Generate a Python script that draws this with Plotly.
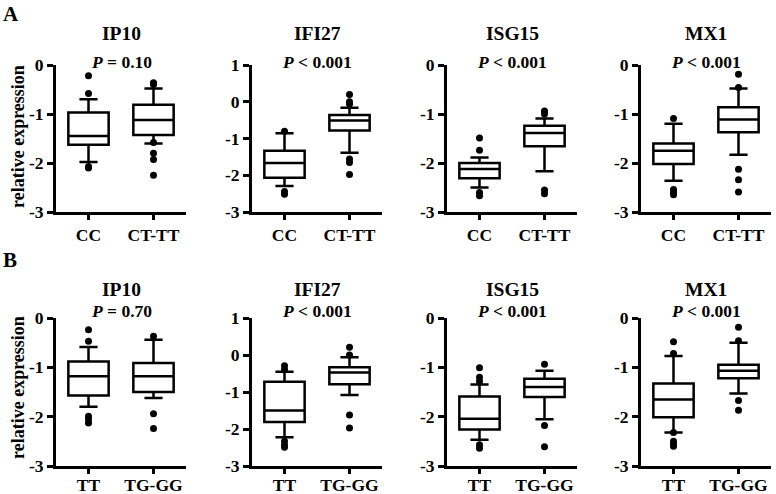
import plotly.graph_objects as go

genes = ["IP10", "IFI27", "ISG15", "MX1"]
groups_A = ["CC", "CT-TT"]
groups_B = ["TT", "TG-GG"]
p_A = ["<i>P</i> = 0.10", "<i>P</i> < 0.001", "<i>P</i> < 0.001", "<i>P</i> < 0.001"]
p_B = ["<i>P</i> = 0.70", "<i>P</i> < 0.001", "<i>P</i> < 0.001", "<i>P</i> < 0.001"]
y_top = [0, 1, 0, 0]
y_bottom = -3

# Panel A stats per gene: [CC, CT-TT]
A_upper = [[-0.70, -0.48], [-0.86, -0.16], [-1.89, -1.09], [-1.20, -0.48]]
A_q3 = [[-0.97, -0.81], [-1.33, -0.36], [-2.00, -1.24], [-1.60, -0.86]]
A_median = [[-1.45, -1.12], [-1.67, -0.51], [-2.12, -1.39], [-1.75, -1.11]]
A_q1 = [[-1.63, -1.43], [-2.07, -0.78], [-2.31, -1.66], [-2.02, -1.37]]
A_lower = [[-1.98, -1.60], [-2.29, -1.39], [-2.50, -2.17], [-2.36, -1.83]]
A_outliers = [
    [[-0.22, -0.58, -2.07, -2.10], [-0.36, -0.40, -1.58, -1.80, -1.93, -2.25]],
    [[-0.80, -2.44, -2.52], [0.20, 0.00, -0.06, -1.56, -1.65, -1.98]],
    [[-1.49, -1.74, -2.60, -2.67], [-0.94, -1.00, -2.55, -2.63]],
    [[-1.09, -2.54, -2.60, -2.65], [-0.19, -0.46, -2.13, -2.34, -2.59]],
]

# Panel B stats per gene: [TT, TG-GG]
B_upper = [[-0.59, -0.44], [-0.45, -0.06], [-1.35, -1.07], [-0.77, -0.50]]
B_q3 = [[-0.88, -0.91], [-0.72, -0.33], [-1.59, -1.23], [-1.33, -0.95]]
B_median = [[-1.18, -1.18], [-1.50, -0.47], [-2.04, -1.40], [-1.65, -1.07]]
B_q1 = [[-1.57, -1.50], [-1.81, -0.79], [-2.26, -1.60], [-2.01, -1.22]]
B_lower = [[-1.80, -1.62], [-2.22, -1.08], [-2.47, -2.05], [-2.32, -1.53]]
B_outliers = [
    [[-0.24, -0.47, -1.99, -2.05, -2.13], [-0.37, -1.94, -2.24]],
    [[-0.29, -0.39, -2.33, -2.43, -2.49], [0.21, 0.00, -1.62, -1.97]],
    [[-1.01, -1.20, -1.28, -2.57, -2.64], [-0.94, -2.18, -2.61]],
    [[-0.48, -0.72, -2.32, -2.50, -2.55, -2.60], [-0.19, -0.46, -1.67, -1.87]],
]

W, H = 776, 494
FONT = "Liberation Serif"
x_left_px = [56, 252, 447, 641]
x_width_px = 130
panels = [
    dict(groups=groups_A, p=p_A, upper=A_upper, q3=A_q3, median=A_median, q1=A_q1,
         lower=A_lower, outliers=A_outliers, top=65, bottom=212, title_y=34, p_y=62,
         letter="A", letter_y=14, label_y=137, standoff=0),
    dict(groups=groups_B, p=p_B, upper=B_upper, q3=B_q3, median=B_median, q1=B_q1,
         lower=B_lower, outliers=B_outliers, top=318, bottom=466, title_y=289, p_y=311,
         letter="B", letter_y=260, label_y=388, standoff=-4),
]

fig = go.Figure()
annotations = []
k = 0
for pi, pan in enumerate(panels):
    for gi, gene in enumerate(genes):
        k += 1
        xa = "x" if k == 1 else f"x{k}"
        ya = "y" if k == 1 else f"y{k}"
        for ci, cat in enumerate(pan["groups"]):
            fig.add_trace(go.Box(
                x=[cat], q1=[pan["q1"][gi][ci]], median=[pan["median"][gi][ci]],
                q3=[pan["q3"][gi][ci]], lowerfence=[pan["lower"][gi][ci]],
                upperfence=[pan["upper"][gi][ci]], boxpoints=False,
                fillcolor="white", line=dict(color="black", width=2.5),
                width=0.62, whiskerwidth=0.45, xaxis=xa, yaxis=ya, showlegend=False,
            ))
            outs = pan["outliers"][gi][ci]
            fig.add_trace(go.Scatter(
                x=[cat] * len(outs), y=outs, mode="markers",
                marker=dict(color="black", size=7), xaxis=xa, yaxis=ya, showlegend=False,
                cliponaxis=False,
            ))
        x0 = x_left_px[gi] / W
        x1 = (x_left_px[gi] + x_width_px) / W
        y0 = 1 - pan["bottom"] / H
        y1 = 1 - pan["top"] / H
        tv = list(range(y_top[gi], y_bottom - 1, -1))
        axis_common = dict(showline=True, linecolor="black", linewidth=3, ticks="outside",
                           tickwidth=3, tickcolor="black", showgrid=False,
                           zeroline=False, automargin=False,
                           tickfont=dict(family=FONT, size=17.5, color="black", weight="bold"))
        fig.layout[("xaxis" if k == 1 else f"xaxis{k}")] = dict(
            domain=[x0, x1], anchor=ya, type="category", range=[-0.5, 1.5], ticklen=5,
            ticklabelstandoff=pan["standoff"],
            categoryorder="array", categoryarray=pan["groups"], **axis_common)
        fig.layout[("yaxis" if k == 1 else f"yaxis{k}")] = dict(
            domain=[y0, y1], anchor=xa, range=[y_bottom, y_top[gi]], tickvals=tv, ticklen=6,
            ticktext=[str(v) for v in tv], **axis_common)
        cx = (x0 + x1) / 2
        annotations.append(dict(text=f"<b>{gene}</b>", x=cx, y=1 - pan["title_y"] / H,
                                xref="paper", yref="paper", showarrow=False,
                                xanchor="center", yanchor="middle",
                                font=dict(family=FONT, size=19.5, color="black")))
        annotations.append(dict(text=f"<b>{pan['p'][gi]}</b>", x=cx, y=1 - pan["p_y"] / H,
                                xref="paper", yref="paper", showarrow=False,
                                xanchor="center", yanchor="middle",
                                font=dict(family=FONT, size=17.5, color="black")))
    annotations.append(dict(text=f"<b>{pan['letter']}</b>", x=1 / W, y=1 - pan["letter_y"] / H,
                            xref="paper", yref="paper", xanchor="left", yanchor="middle",
                            showarrow=False, font=dict(family=FONT, size=21, color="black")))
    annotations.append(dict(text="<b>relative expression</b>", x=18 / W, y=1 - pan["label_y"] / H,
                            xref="paper", yref="paper", textangle=-90, showarrow=False,
                            xanchor="center", yanchor="middle",
                            font=dict(family=FONT, size=18, color="black")))

fig.update_layout(width=W, height=H, margin=dict(l=0, r=0, t=0, b=0, autoexpand=False),
                  plot_bgcolor="white", paper_bgcolor="white",
                  font=dict(family=FONT, size=17, color="black"),
                  annotations=annotations)
fig.write_html("out.html", config={"displayModeBar": False},
               post_script="document.body.style.margin='0';document.body.style.overflow='hidden';")
